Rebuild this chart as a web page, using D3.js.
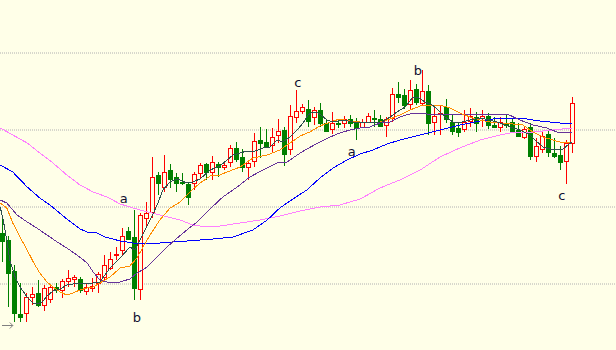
<html>

<head>
  <meta charset="UTF-8">
  <script src="https://d3js.org/d3.v7.min.js"></script>
</head>
<style>
  body { margin: 0; background: #ffffe8; }
  .gridlines line { stroke: #b0b0b0; stroke-dasharray: 1, 1; }
  .gridlines .domain { stroke: none; }
  path.ma { shape-rendering: crispEdges; }
</style>

<body>
  <svg id="chart" width="616" height="350"></svg>

  <script>
    // candle prices, one entry per bar (left to right)
    const opens = [1117, 1110, 1079, 1036, 1037, 1053, 1057, 1045, 1051, 1063, 1060, 1069, 1071, 1071, 1059, 1062,
      1067, 1073, 1082, 1095, 1100, 1119, 1113, 1061, 1132, 1138, 1175, 1163, 1180, 1173, 1168, 1166,
      1167, 1177, 1186, 1178, 1186, 1183, 1188, 1202, 1193, 1183, 1189, 1210, 1208, 1205, 1215, 1220,
      1201, 1233, 1239, 1241, 1233, 1240, 1227, 1221, 1227, 1227, 1231, 1228, 1223, 1228, 1232, 1231,
      1225, 1232, 1256, 1255, 1246, 1261, 1247, 1259, 1228, 1236, 1243, 1228, 1222, 1221, 1229, 1233,
      1232, 1234, 1225, 1223, 1227, 1228, 1220, 1213, 1223, 1194, 1201, 1216, 1197, 1195, 1189, 1207];
    const highs = [1132, 1114, 1085, 1067, 1057, 1063, 1070, 1065, 1066, 1067, 1071, 1080, 1075, 1073, 1066, 1072,
      1078, 1095, 1098, 1103, 1122, 1123, 1140, 1137, 1148, 1193, 1178, 1195, 1186, 1177, 1177, 1167,
      1178, 1187, 1187, 1194, 1188, 1187, 1205, 1208, 1201, 1190, 1217, 1223, 1221, 1222, 1231, 1223,
      1245, 1260, 1246, 1250, 1243, 1247, 1230, 1238, 1230, 1234, 1235, 1232, 1231, 1237, 1240, 1235,
      1233, 1262, 1268, 1261, 1270, 1266, 1280, 1265, 1243, 1244, 1251, 1235, 1228, 1240, 1242, 1238,
      1240, 1237, 1233, 1233, 1236, 1232, 1227, 1223, 1227, 1212, 1218, 1220, 1212, 1204, 1210, 1253];
    const lows = [1088, 1043, 1028, 1028, 1028, 1045, 1043, 1039, 1047, 1057, 1052, 1063, 1063, 1057, 1055, 1058,
      1057, 1070, 1080, 1090, 1095, 1110, 1050, 1050, 1122, 1132, 1155, 1158, 1162, 1158, 1165, 1145,
      1160, 1172, 1170, 1170, 1173, 1180, 1183, 1188, 1178, 1170, 1183, 1192, 1202, 1198, 1207, 1184,
      1195, 1227, 1236, 1223, 1225, 1223, 1218, 1216, 1222, 1222, 1223, 1210, 1222, 1227, 1223, 1224,
      1213, 1228, 1247, 1241, 1241, 1245, 1245, 1215, 1215, 1215, 1227, 1215, 1213, 1218, 1223, 1218,
      1223, 1221, 1222, 1218, 1222, 1217, 1213, 1211, 1190, 1188, 1197, 1193, 1192, 1180, 1166, 1197];
    const closes = [1109, 1077, 1037, 1033, 1053, 1056, 1045, 1062, 1063, 1060, 1069, 1072, 1073, 1060, 1063, 1064,
      1076, 1085, 1091, 1096, 1114, 1111, 1062, 1135, 1137, 1173, 1167, 1178, 1171, 1167, 1167, 1153,
      1176, 1185, 1178, 1188, 1183, 1185, 1202, 1191, 1183, 1187, 1209, 1207, 1203, 1213, 1219, 1196,
      1234, 1239, 1243, 1229, 1240, 1227, 1219, 1227, 1226, 1231, 1227, 1222, 1228, 1234, 1231, 1224,
      1231, 1256, 1253, 1245, 1260, 1248, 1259, 1227, 1234, 1237, 1231, 1219, 1218, 1228, 1234, 1227,
      1234, 1225, 1223, 1228, 1225, 1219, 1214, 1221, 1194, 1204, 1214, 1198, 1194, 1188, 1207, 1247];

    // moving averages: [bar index, price]
    const maFast = [[-0.3, 1143], [0.2, 1130], [0.8, 1110], [1.3, 1090], [2.2, 1073], [3, 1063], [4.2, 1053], [5.2, 1047],
      [5.8, 1046], [6.7, 1048], [7.5, 1054], [8.5, 1059], [9.7, 1061], [10.8, 1065], [11.8, 1066], [13, 1067],
      [15.2, 1067], [16.3, 1068], [18, 1082], [19.7, 1092], [21.3, 1103], [22.2, 1100], [23, 1110], [24.7, 1130],
      [26, 1147], [26.8, 1160], [28, 1168], [29.2, 1171], [30.8, 1167], [31.8, 1168], [33, 1171], [34.7, 1180],
      [36.3, 1184], [38.5, 1195], [39.7, 1197], [40.8, 1199], [41.8, 1198], [43.5, 1202], [44.7, 1203], [45.8, 1210],
      [46.8, 1208], [48, 1213], [49.2, 1220], [50.3, 1228], [51, 1235], [51.8, 1238], [52.7, 1237], [54.2, 1230],
      [55.2, 1228], [56.8, 1230], [58.5, 1228], [60.2, 1228], [61.8, 1227], [63.3, 1228], [64.7, 1233], [65.8, 1238],
      [67.2, 1243], [68.5, 1253], [69.3, 1253], [70.5, 1248], [71.7, 1245], [72.7, 1240], [73.8, 1233], [75.2, 1228],
      [76.7, 1228], [78, 1230], [79.7, 1232], [81.3, 1230], [83, 1227], [84.7, 1223], [86.3, 1220], [88, 1215],
      [89.2, 1208], [90.2, 1203], [91.3, 1201], [92.5, 1200], [93.5, 1201], [94.3, 1205], [95, 1208]];
    const maOrange = [[-0.3, 1147], [0.8, 1142], [1.8, 1127], [3, 1113], [4.2, 1100], [5.2, 1088], [6.3, 1077], [7.5, 1068],
      [8.5, 1063], [9.7, 1058], [10.8, 1055], [11.8, 1057], [13, 1060], [14.2, 1062], [15.2, 1063], [16.3, 1067],
      [18, 1073], [19.7, 1082], [21.3, 1084], [22.5, 1092], [23.5, 1103], [25, 1118], [26.3, 1130], [28, 1142],
      [29.7, 1148], [31.3, 1158], [33, 1167], [34.7, 1174], [36.3, 1175], [37.5, 1178], [39.7, 1183], [41.8, 1192],
      [44.2, 1195], [46.3, 1200], [48, 1207], [49.7, 1214], [51.3, 1218], [53, 1224], [54.7, 1228], [56.3, 1231],
      [58, 1229], [59.7, 1228], [63, 1228], [64.7, 1231], [66.3, 1235], [68, 1240], [69.7, 1244], [71.3, 1245],
      [73, 1245], [74.7, 1242], [76.3, 1237], [78, 1233], [79.7, 1230], [81.3, 1228], [83, 1227], [85.2, 1226],
      [86.8, 1225], [88.5, 1218], [90.2, 1213], [91.8, 1210], [93.5, 1207], [95, 1208]];
    const maPurple = [[-0.3, 1150], [0.8, 1147], [2.5, 1135], [4.2, 1128], [5.8, 1122], [7.5, 1115], [9.2, 1108], [10.8, 1102],
      [12.5, 1095], [14.2, 1087], [15.2, 1078], [16.3, 1070], [18, 1067], [19.7, 1068], [21.3, 1071], [22.5, 1077],
      [24.2, 1083], [25.8, 1093], [27.5, 1103], [29.2, 1112], [30.8, 1120], [32.5, 1128], [34.5, 1140], [36.8, 1153],
      [39.2, 1163], [41.3, 1173], [43.5, 1180], [45.8, 1187], [47.5, 1188], [49.2, 1195], [50.5, 1200], [53, 1208],
      [54.7, 1213], [56.3, 1217], [58, 1220], [59.7, 1222], [61.3, 1223], [63, 1227], [64.7, 1228], [66.3, 1233],
      [68.5, 1237], [70.8, 1236], [84.2, 1236], [86.3, 1230], [88.5, 1225], [90.8, 1222], [92.5, 1218], [94.2, 1217],
      [95, 1218]];
    const maBlue = [[-0.3, 1185], [1.8, 1178], [4.2, 1163], [6.3, 1152], [8, 1145], [10.8, 1131], [13, 1121], [14.2, 1118],
      [15.8, 1117], [17.2, 1113], [19.7, 1109], [23, 1106], [26.3, 1107], [30.8, 1109], [35.2, 1111], [38.5, 1113],
      [41.8, 1120], [44.2, 1130], [46.3, 1142], [48.5, 1151], [50.8, 1160], [53, 1172], [55.2, 1182], [57.5, 1190],
      [59.7, 1196], [61.8, 1200], [64.2, 1206], [66.3, 1210], [69.7, 1215], [73, 1220], [76.3, 1225], [79.7, 1229],
      [83, 1232], [86.3, 1232], [89.7, 1229], [93, 1227], [95, 1227]];
    const maPink = [[-0.3, 1222], [1.8, 1215], [4.2, 1207], [6.3, 1197], [8.5, 1187], [10.8, 1175], [13, 1165], [15.2, 1158],
      [17.5, 1153], [19.7, 1146], [23, 1140], [26.3, 1135], [29.7, 1130], [31.8, 1125], [34.2, 1123], [36.3, 1124],
      [39.7, 1127], [43, 1130], [46.3, 1134], [49.7, 1139], [53, 1143], [56.3, 1145], [59.7, 1151], [63, 1162],
      [66.3, 1170], [69.7, 1180], [73, 1193], [76.3, 1202], [79.7, 1210], [83, 1215], [84.7, 1217], [88.5, 1218],
      [91.8, 1220], [95, 1222]];

    // wave labels: [bar index, price, text]
    const waveLabels = [[20.3, 1147, "a"], [22.5, 1028, "b"], [49.3, 1263, "c"],
      [58.3, 1194, "a"], [69.3, 1275, "b"], [93.3, 1150, "c"]];

    const gridLevels = [1067, 1144, 1221, 1298];

    const svg = d3.select("svg#chart");
    const width = +svg.attr("width");
    const height = +svg.attr("height");

    svg.append("rect").attr("width", width).attr("height", height).attr("fill", "#ffffe8");

    const x = d3.scaleLinear().domain([0, 95]).range([2, 572]);
    const y = d3.scaleLinear().domain([1000, 1350]).range([height, 0]);

    // dotted horizontal grid
    const grid = d3.axisLeft(y).tickValues(gridLevels).tickFormat("").tickSize(-width);
    svg.append("g").attr("class", "gridlines").attr("transform", "translate(0,0.5)").call(grid);

    // candles
    const bars = opens.map((o, i) => ({ i: i, o: o, h: highs[i], l: lows[i], c: closes[i] }));
    const up = d => d.c >= d.o;
    const cx = d => Math.round(x(d.i));

    const candles = svg.append("g");
    candles.selectAll("line.wick").data(bars)
      .join("line").attr("class", "wick")
      .attr("x1", d => cx(d) + 0.5).attr("x2", d => cx(d) + 0.5)
      .attr("y1", d => Math.round(y(d.h))).attr("y2", d => Math.round(y(d.l)))
      .attr("stroke", d => up(d) ? "#ff0000" : "#008000")
      .attr("stroke-width", 1);

    candles.selectAll("rect.body").data(bars)
      .join("rect").attr("class", "body")
      .attr("x", d => up(d) ? cx(d) - 1.5 : cx(d) - 2)
      .attr("y", d => Math.round(y(Math.max(d.o, d.c))) + (up(d) ? 0.5 : 0))
      .attr("width", d => up(d) ? 4 : 5)
      .attr("height", d => Math.max(1, Math.round(y(Math.min(d.o, d.c))) - Math.round(y(Math.max(d.o, d.c)))) - (up(d) ? 0 : -1))
      .attr("fill", d => up(d) ? "#ffffe8" : "#008000")
      .attr("stroke", d => up(d) ? "#ff0000" : "none")
      .attr("stroke-width", 1);

    // moving averages
    const line = d3.line().x(d => x(d[0])).y(d => y(d[1]));
    const series = [
      [maPink, "#ff80ff"],
      [maBlue, "#0000ff"],
      [maPurple, "#663399"],
      [maOrange, "#ff8c00"],
      [maFast, "#2f4f4f"]
    ];
    svg.append("g").selectAll("path.ma").data(series)
      .join("path").attr("class", "ma")
      .attr("d", d => line(d[0]))
      .attr("fill", "none")
      .attr("stroke", d => d[1])
      .attr("stroke-width", 1);

    // labels
    svg.append("g").selectAll("text.wave").data(waveLabels)
      .join("text").attr("class", "wave")
      .attr("x", d => x(d[0]))
      .attr("y", d => y(d[1]))
      .attr("text-anchor", "middle")
      .attr("font-family", "DejaVu Sans, sans-serif")
      .attr("font-size", "13px")
      .attr("fill", "#101030")
      .text(d => d[2]);

    // chart shift arrow, bottom left
    const ay = Math.round(y(1025)) + 0.5;
    const arrow = svg.append("g").attr("stroke", "#808080").attr("fill", "none");
    arrow.append("line").attr("x1", x(0)).attr("x2", x(1.8)).attr("y1", ay).attr("y2", ay);
    arrow.append("path").attr("d", `M${x(1.8) - 3},${ay - 3}L${x(1.8)},${ay}L${x(1.8) - 3},${ay + 3}`);
  </script>
</body>

</html>
